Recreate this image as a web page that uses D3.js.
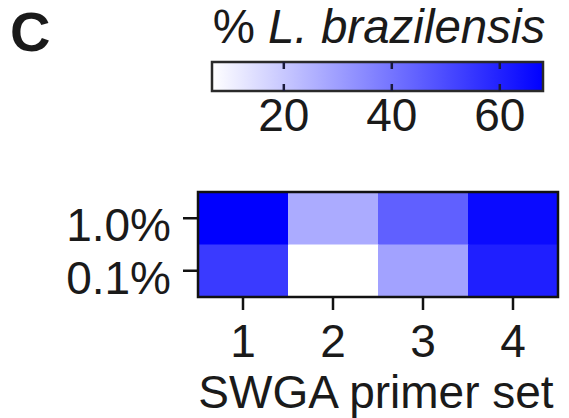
<!DOCTYPE html>
<html>
<head>
<meta charset="utf-8">
<script src="https://cdn.jsdelivr.net/npm/d3@7"></script>
<style>
  html, body { margin: 0; padding: 0; background: #fff; }
  svg { display: block; font-family: Arial, "Liberation Sans", sans-serif; }
</style>
</head>
<body>
<svg id="chart" width="569" height="418"></svg>
<script>
// Primer sets (columns) and dilution rows
const primerSets = ["1", "2", "3", "4"];
const dilutions = ["1.0%", "0.1%"];
// % L. brazilensis per primer set, one array per dilution
const values10 = [68.0, 27.0, 45.0, 65.5];
const values01 = [54.0, 6.7, 29.0, 60.5];
const colorTicks = [20, 40, 60];

const rows = [values10, values01];
const cells = [];
dilutions.forEach((d, i) => {
  primerSets.forEach((p, j) => cells.push({ row: d, col: p, value: rows[i][j] }));
});

const svg = d3.select("#chart");
const ink = "#1a1a1a";

const allVals = cells.map(c => c.value);
const extent = d3.extent(allVals);
const color = d3.scaleLinear().domain(extent).range(["#ffffff", "#0000ff"]);

// Panel letter
svg.append("text")
  .attr("x", 10).attr("y", 51)
  .attr("font-size", 56).attr("font-weight", "bold").attr("fill", ink)
  .text("C");

// Colour bar title
const title = svg.append("text")
  .attr("x", 379).attr("y", 43)
  .attr("text-anchor", "middle")
  .attr("font-size", 47.5).attr("fill", ink);
title.append("tspan").text("% ");
title.append("tspan").attr("font-style", "italic").text("L. brazilensis");

// Colour bar
const cbX = d3.scaleLinear().domain(extent).range([212, 543]);
const cbTop = 62, cbH = 29;
const grad = svg.append("defs").append("linearGradient")
  .attr("id", "cbGrad").attr("x1", "0%").attr("x2", "100%");
grad.append("stop").attr("offset", "0%").attr("stop-color", color(extent[0]));
grad.append("stop").attr("offset", "100%").attr("stop-color", color(extent[1]));

svg.append("rect")
  .attr("x", cbX(extent[0])).attr("y", cbTop)
  .attr("width", cbX(extent[1]) - cbX(extent[0])).attr("height", cbH)
  .attr("fill", "url(#cbGrad)")
  .attr("stroke", "#2a2a2a").attr("stroke-width", 2.5);

const cbTicks = svg.append("g");
colorTicks.forEach(t => {
  cbTicks.append("line")
    .attr("x1", cbX(t)).attr("x2", cbX(t))
    .attr("y1", cbTop).attr("y2", cbTop + 7)
    .attr("stroke", "#1a1a3a").attr("stroke-width", 2.5);
  cbTicks.append("line")
    .attr("x1", cbX(t)).attr("x2", cbX(t))
    .attr("y1", cbTop + cbH - 7).attr("y2", cbTop + cbH)
    .attr("stroke", "#1a1a3a").attr("stroke-width", 2.5);
  cbTicks.append("text")
    .attr("x", cbX(t)).attr("y", 131)
    .attr("text-anchor", "middle")
    .attr("font-size", 46).attr("fill", ink)
    .text(t);
});

// Heatmap
const x = d3.scaleBand().domain(primerSets).range([198, 558]);
const y = d3.scaleBand().domain(dilutions).range([192, 297]);

svg.append("g").selectAll("rect")
  .data(cells)
  .join("rect")
  .attr("x", d => x(d.col))
  .attr("y", d => y(d.row))
  .attr("width", x.bandwidth() + 0.5)
  .attr("height", y.bandwidth() + 0.5)
  .attr("fill", d => color(d.value));

svg.append("rect")
  .attr("x", 198).attr("y", 192)
  .attr("width", 360).attr("height", 105)
  .attr("fill", "none").attr("stroke", "#111").attr("stroke-width", 2.5);

// Axes
const yAxis = svg.append("g")
  .attr("transform", "translate(198,0)")
  .call(d3.axisLeft(y).tickSize(15).tickPadding(12));
yAxis.select(".domain").remove();
yAxis.selectAll(".tick line").attr("stroke", "#111").attr("stroke-width", 2.5);
yAxis.selectAll(".tick text")
  .attr("font-size", 46).attr("fill", ink)
  .attr("font-family", "Arial, 'Liberation Sans', sans-serif")
  .attr("dy", "0.5em");

const xAxis = svg.append("g")
  .attr("transform", "translate(0,297)")
  .call(d3.axisBottom(x).tickSize(13).tickPadding(14));
xAxis.select(".domain").remove();
xAxis.selectAll(".tick line").attr("stroke", "#111").attr("stroke-width", 2.5);
xAxis.selectAll(".tick text")
  .attr("font-size", 46).attr("fill", ink)
  .attr("font-family", "Arial, 'Liberation Sans', sans-serif")
  .attr("dy", "0.71em");

svg.append("text")
  .attr("x", 376).attr("y", 408)
  .attr("text-anchor", "middle")
  .attr("font-size", 46).attr("fill", ink)
  .text("SWGA primer set");
</script>
</body>
</html>
